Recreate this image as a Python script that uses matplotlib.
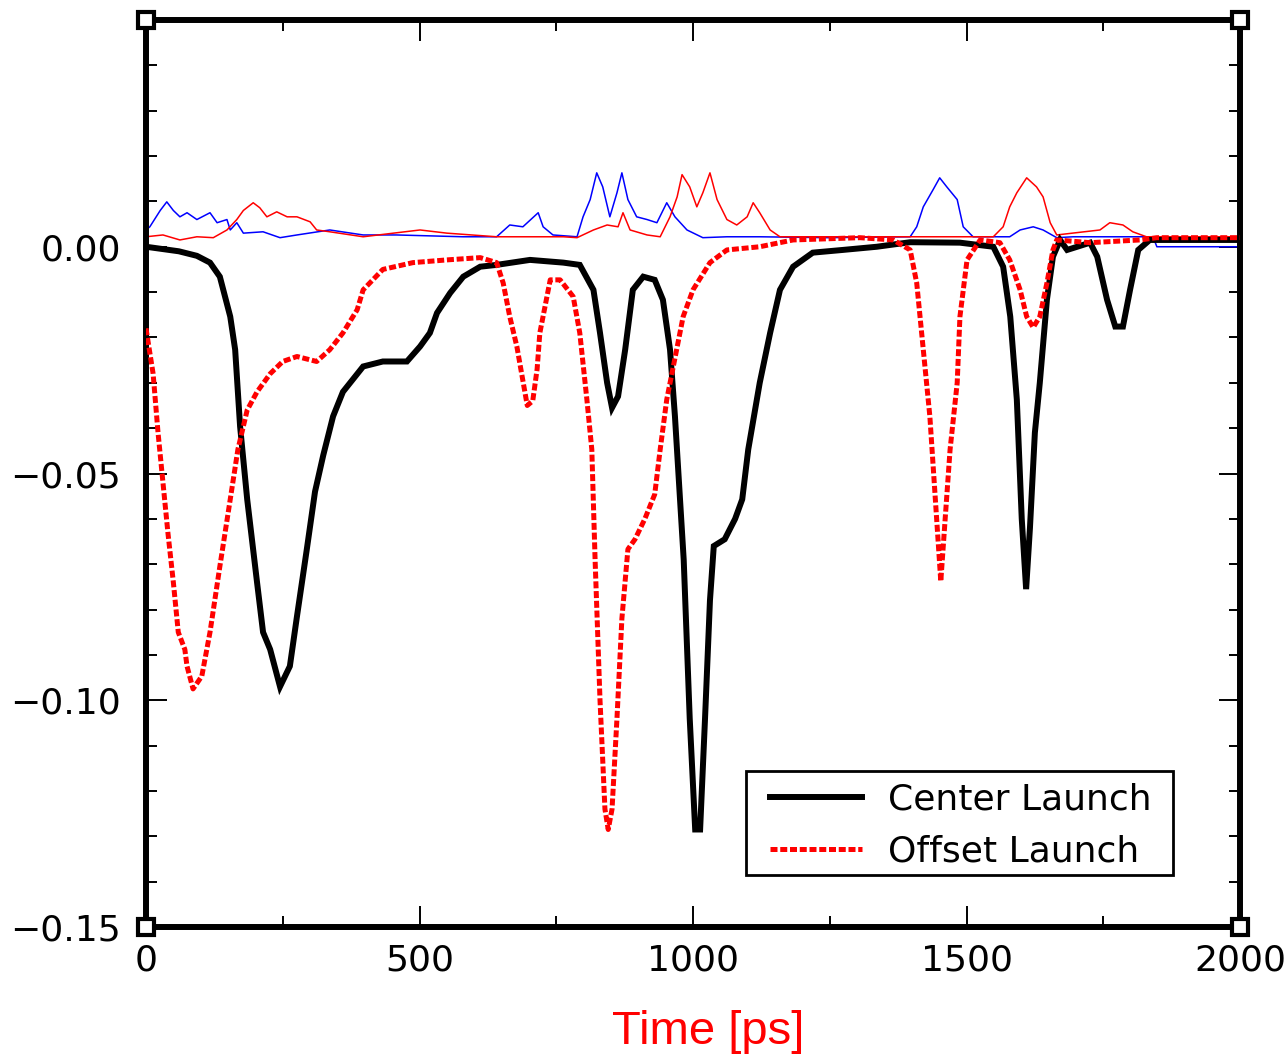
import matplotlib
matplotlib.use("Agg")
import matplotlib.pyplot as plt
from matplotlib.ticker import MultipleLocator, FuncFormatter
from matplotlib.patches import Rectangle

# ---------------- data ----------------
center_x = [0, 60, 93, 117, 135, 154, 163, 172, 185, 203, 214, 227, 245, 263, 276, 294, 309, 324,
            342, 360, 397, 433, 477, 501, 519, 532, 556, 580, 611, 641, 702, 763, 793, 818, 830,
            843, 852, 863, 876, 890, 909, 930, 945, 958, 967, 983, 994, 1004, 1013, 1022, 1031,
            1038, 1058, 1077, 1090, 1101, 1122, 1141, 1159, 1183, 1219, 1274, 1336, 1397, 1488,
            1549, 1567, 1580, 1592, 1601, 1609, 1616, 1625, 1634, 1647, 1658, 1671, 1684, 1726,
            1739, 1757, 1772, 1786, 1799, 1814, 1835, 2000]
center_y = [0.0, -0.001, -0.002, -0.0035, -0.0066, -0.0154, -0.0227, -0.0396, -0.0557, -0.074,
            -0.085, -0.0888, -0.097, -0.0925, -0.0815, -0.0667, -0.054, -0.046, -0.0374, -0.032,
            -0.0264, -0.0253, -0.0253, -0.022, -0.019, -0.0146, -0.0102, -0.0066, -0.0044, -0.004,
            -0.0029, -0.0035, -0.004, -0.0095, -0.019, -0.030, -0.0355, -0.033, -0.0227, -0.0095,
            -0.0066, -0.0073, -0.0117, -0.0227, -0.0374, -0.069, -0.104, -0.1285, -0.1285, -0.104,
            -0.078, -0.066, -0.0645, -0.060, -0.0557, -0.0447, -0.030, -0.019, -0.0095, -0.0044,
            -0.0013, -0.0007, 0.0, 0.001, 0.0009, 0.0, -0.0044, -0.0154, -0.0337, -0.060, -0.0755,
            -0.062, -0.041, -0.030, -0.0117, -0.0022, 0.0015, -0.0007, 0.0009, -0.0022, -0.0117,
            -0.0176, -0.0176, -0.0095, -0.0007, 0.0015, 0.0015]

offset_x = [0, 13, 22, 31, 40, 50, 59, 71, 75, 86, 102, 117, 135, 154, 168, 185, 203, 227, 250,
            276, 312, 336, 360, 386, 397, 433, 488, 550, 611, 641, 653, 665, 678, 697, 707, 715,
            720, 739, 757, 781, 793, 806, 815, 821, 830, 839, 845, 852, 861, 870, 881, 894, 912,
            930, 940, 952, 964, 982, 1000, 1031, 1062, 1122, 1183, 1305, 1366, 1397, 1409, 1421,
            1433, 1453, 1461, 1470, 1483, 1488, 1501, 1525, 1561, 1579, 1598, 1610, 1622, 1634,
            1647, 1658, 1665, 1726, 1817, 1848, 2000]
offset_y = [-0.018, -0.028, -0.041, -0.052, -0.063, -0.074, -0.085, -0.0888, -0.0925, -0.0975,
            -0.0947, -0.085, -0.0705, -0.0557, -0.0447, -0.036, -0.032, -0.028, -0.0253, -0.0242,
            -0.0253, -0.0227, -0.019, -0.0139, -0.0095, -0.005, -0.0035, -0.0029, -0.0024, -0.0035,
            -0.008, -0.0154, -0.022, -0.035, -0.034, -0.027, -0.019, -0.0073, -0.0073, -0.011,
            -0.019, -0.0337, -0.0447, -0.069, -0.100, -0.124, -0.1285, -0.124, -0.104, -0.082,
            -0.0667, -0.0645, -0.060, -0.0546, -0.0447, -0.0337, -0.0264, -0.0154, -0.0095,
            -0.0035, -0.0007, 0.0, 0.0015, 0.002, 0.0015, -0.0007, -0.008, -0.0227, -0.0374,
            -0.0738, -0.060, -0.0447, -0.030, -0.0154, -0.0029, 0.0015, 0.0009, -0.0029, -0.0095,
            -0.0154, -0.0178, -0.0154, -0.008, -0.0007, 0.0015, 0.0009, 0.0015, 0.002, 0.002]

blue_x = [0, 7, 26, 38, 50, 62, 75, 93, 117, 130, 148, 154, 166, 178, 214, 245, 276, 336, 397,
          458, 580, 641, 665, 689, 717, 726, 744, 788, 799, 812, 824, 835, 848, 861, 870, 881,
          897, 916, 934, 952, 967, 989, 1018, 1062, 1122, 1245, 1397, 1409, 1421, 1439, 1451,
          1464, 1483, 1494, 1512, 1579, 1598, 1622, 1640, 1665, 1695, 1841, 1848, 2000]
blue_y = [0.0037, 0.0044, 0.008, 0.0099, 0.008, 0.0066, 0.0075, 0.006, 0.0075, 0.0053, 0.006,
          0.0037, 0.0053, 0.003, 0.0033, 0.002, 0.0026, 0.0037, 0.0026, 0.0026, 0.0022, 0.0022,
          0.0048, 0.0044, 0.0075, 0.0044, 0.0026, 0.0022, 0.0066, 0.0104, 0.0163, 0.0132, 0.0066,
          0.0119, 0.0163, 0.0104, 0.0066, 0.006, 0.0053, 0.0097, 0.0066, 0.0037, 0.002, 0.0022,
          0.0022, 0.002, 0.0022, 0.0044, 0.0088, 0.0126, 0.0152, 0.0132, 0.0104, 0.0044, 0.0022,
          0.0022, 0.0037, 0.0044, 0.0037, 0.002, 0.0022, 0.0022, 0.0, 0.0]

red_x = [0, 31, 62, 93, 123, 148, 166, 178, 196, 208, 221, 239, 258, 276, 300, 312, 336, 397,
         501, 550, 641, 763, 788, 818, 843, 863, 872, 885, 916, 940, 958, 971, 980, 994, 1007,
         1018, 1031, 1044, 1062, 1080, 1099, 1110, 1122, 1141, 1159, 1549, 1567, 1579, 1592,
         1610, 1628, 1640, 1653, 1665, 1744, 1762, 1786, 1804, 1829, 2000]
red_y = [0.0022, 0.0026, 0.0015, 0.0022, 0.002, 0.0037, 0.006, 0.008, 0.0097, 0.0086, 0.0066,
         0.0077, 0.0066, 0.0066, 0.0055, 0.0037, 0.0033, 0.0022, 0.0037, 0.003, 0.0022, 0.0022,
         0.002, 0.0037, 0.0048, 0.0044, 0.0075, 0.0037, 0.0026, 0.0022, 0.0066, 0.011, 0.0159,
         0.0132, 0.0088, 0.0119, 0.0163, 0.0104, 0.006, 0.0048, 0.0066, 0.0097, 0.0075, 0.0037,
         0.0022, 0.0022, 0.0044, 0.0088, 0.0119, 0.0152, 0.0132, 0.011, 0.0053, 0.0026, 0.0037,
         0.0053, 0.0048, 0.0033, 0.0022, 0.0022]

x_ticks = [0, 500, 1000, 1500, 2000]
y_ticks = [-0.15, -0.10, -0.05, 0.00]
series_labels = ["Center Launch", "Offset Launch"]
x_label = "Time [ps]"

# ---------------- figure ----------------
fig = plt.figure(figsize=(12.87, 10.59), dpi=100)
ax = fig.add_axes([146/1287, 1 - 927/1059, (1240-146)/1287, (927-20)/1059])

ax.plot(blue_x, blue_y, color="#0000ff", lw=1.1, zorder=2)
ax.plot(red_x, red_y, color="#ff0000", lw=1.1, zorder=2)
ax.plot(center_x, center_y, color="black", lw=4.3, zorder=3, label=series_labels[0],
        solid_joinstyle="miter")
ax.plot(offset_x, offset_y, color="#ff0000", lw=3.6, zorder=4, label=series_labels[1],
        linestyle=(0, (1.4, 0.55)), dash_capstyle="butt")

ax.set_xlim(0, 2000)
ax.set_ylim(-0.15, 0.05)
ax.set_xticks(x_ticks)
ax.set_yticks(y_ticks)
ax.xaxis.set_minor_locator(MultipleLocator(250))
ax.yaxis.set_minor_locator(MultipleLocator(0.01))


def yfmt(v, pos):
    s = f"{v:.2f}"
    if s == "-0.00":
        s = "0.00"
    return s.replace("-", "\u2212")


ax.yaxis.set_major_formatter(FuncFormatter(yfmt))

ax.tick_params(which="both", direction="in", top=True, right=True, colors="black")
ax.tick_params(which="major", length=15, width=1.4, labelsize=26)
ax.tick_params(which="minor", length=8, width=1.4)
ax.tick_params(axis="y", which="major", pad=18)
ax.tick_params(axis="x", which="major", pad=12)
for lab in ax.get_xticklabels() + ax.get_yticklabels():
    lab.set_fontfamily("DejaVu Sans")

for sp in ax.spines.values():
    sp.set_linewidth(4.3)
    sp.set_color("black")

# corner squares of the frame
for cx, cy in [(0, 0), (1, 0), (0, 1), (1, 1)]:
    ax.plot([cx], [cy], marker="s", ms=12, mfc="white", mec="black", mew=3,
            transform=ax.transAxes, clip_on=False, zorder=10)

ax.set_xlabel(x_label, color="#ff0000", fontsize=34, fontfamily="Liberation Sans")
ax.xaxis.set_label_coords(0.514, -0.092)

# legend box (frame drawn separately in axes coordinates)
ax.add_patch(Rectangle((0.5484, 0.0573), 0.9388 - 0.5484, 0.1720 - 0.0573,
                       transform=ax.transAxes, facecolor="white", edgecolor="black",
                       linewidth=2.0, zorder=5))
leg = ax.legend(loc="lower right", bbox_to_anchor=(0.9287, 0.0529), borderaxespad=0,
                frameon=False, handlelength=2.55, handletextpad=0.72, labelspacing=0.5,
                borderpad=0.28, prop={"family": "DejaVu Sans", "size": 26})
leg.set_zorder(6)

fig.savefig("out.png", dpi=100)
